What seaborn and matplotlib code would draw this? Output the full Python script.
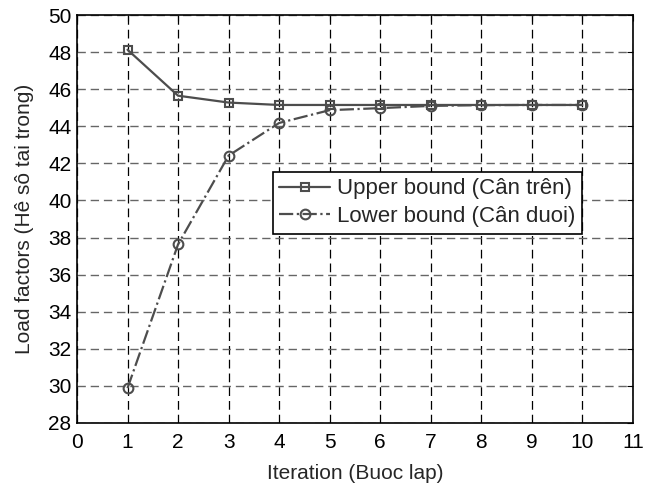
import matplotlib
matplotlib.use("Agg")
import matplotlib.pyplot as plt
import seaborn as sns
import pandas as pd

# values
iterations = [1, 2, 3, 4, 5, 6, 7, 8, 9, 10]
upper = [48.13, 45.65, 45.28, 45.15, 45.15, 45.15, 45.15, 45.15, 45.15, 45.15]
lower = [29.88, 37.63, 42.42, 44.18, 44.87, 44.98, 45.10, 45.14, 45.15, 45.15]
labels = ['Upper bound (Cân trên)', 'Lower bound (Cân duoi)']

df = pd.concat([
    pd.DataFrame({'it': iterations, 'val': upper, 'series': labels[0]}),
    pd.DataFrame({'it': iterations, 'val': lower, 'series': labels[1]}),
])

sns.set_style('white')
plt.rcParams['font.family'] = ['Liberation Sans', 'DejaVu Sans']

fig = plt.figure(figsize=(6.54, 4.88), dpi=100)
ax = fig.add_axes([0.1177, 0.1332, 0.850, 0.836])

line_col = '#4d4d4d'
sns.lineplot(data=df[df.series == labels[0]], x='it', y='val', ax=ax,
             color=line_col, linestyle='-', marker='s', markersize=6,
             markerfacecolor='none', markeredgecolor=line_col, markeredgewidth=1.5,
             linewidth=1.6, label=labels[0])
sns.lineplot(data=df[df.series == labels[1]], x='it', y='val', ax=ax,
             color=line_col, linestyle='-.', marker='o', markersize=7,
             markerfacecolor='none', markeredgecolor=line_col, markeredgewidth=1.5,
             linewidth=1.6, label=labels[1])

ax.set_xlim(0, 11)
ax.set_ylim(28, 50)
ax.set_xticks(range(0, 12))
ax.set_yticks(range(28, 51, 2))
ax.xaxis.grid(True, color='black', linestyle=(0, (7, 4)), linewidth=0.9)
ax.yaxis.grid(True, color='#666666', linestyle=(0, (6, 3.5)), linewidth=1.0)
for s in ax.spines.values():
    s.set_color('black')
    s.set_linewidth(1.2)
ax.tick_params(direction='in', length=4, labelsize=15, colors='black',
               top=True, right=True)
ax.tick_params(axis='x', pad=7)
ax.tick_params(axis='y', pad=4)
ax.set_xlabel('Iteration (Buoc lap)', fontsize=15, labelpad=9)
ax.set_ylabel('Load factors (Hê sô tai trong)', fontsize=15, labelpad=10)

leg = ax.legend(loc='upper left', bbox_to_anchor=(0.352, 0.616), borderaxespad=0,
                fontsize=16, fancybox=False, framealpha=1, edgecolor='black',
                handlelength=2.3, handletextpad=0.3, borderpad=0.3, labelspacing=0.3)
leg.get_frame().set_linewidth(1.2)

fig.savefig('out.png', dpi=100)
